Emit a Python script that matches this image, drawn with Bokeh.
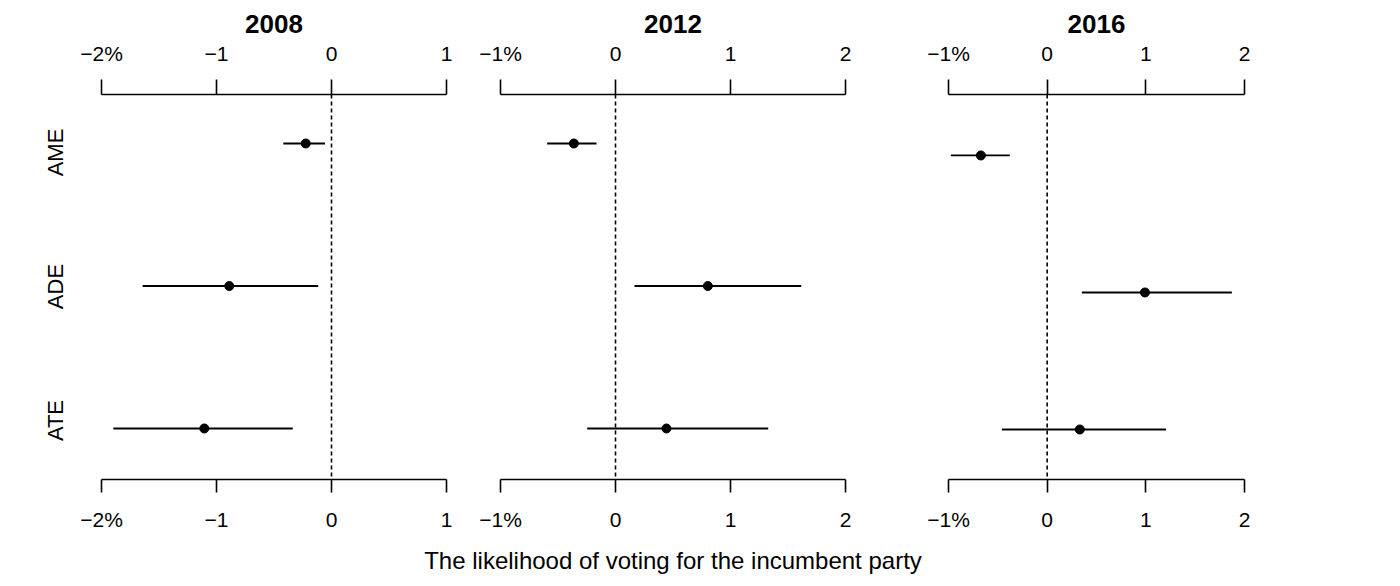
from bokeh.plotting import figure
from bokeh.layouts import row, column
from bokeh.models import Range1d, LinearAxis, FixedTicker, Span, ColumnDataSource, Label
from bokeh.embed import file_html
from bokeh.resources import INLINE

# ---- data ----
effects = ["AME", "ADE", "ATE"]
years = ["2008", "2012", "2016"]

est_2008 = [-0.224, -0.889, -1.106]
lo_2008 = [-0.419, -1.642, -1.897]
hi_2008 = [-0.057, -0.115, -0.337]

est_2012 = [-0.362, 0.803, 0.443]
lo_2012 = [-0.594, 0.165, -0.246]
hi_2012 = [-0.165, 1.615, 1.328]

est_2016 = [-0.672, 0.991, 0.331]
lo_2016 = [-0.976, 0.352, -0.459]
hi_2016 = [-0.378, 1.872, 1.205]

ticks_2008 = [-2, -1, 0, 1]
tick_labels_2008 = ["\u22122%", "\u22121", "0", "1"]
ticks_2012 = [-1, 0, 1, 2]
tick_labels_2012 = ["\u22121%", "0", "1", "2"]
ticks_2016 = [-1, 0, 1, 2]
tick_labels_2016 = ["\u22121%", "0", "1", "2"]

x_title = "The likelihood of voting for the incumbent party"
reference_value = 0

FONT = "Liberation Sans"
PANEL_H = 540


def style_x_axis(ax, ticks, labels, tick_out, standoff):
    ax.ticker = FixedTicker(ticks=ticks)
    ax.major_label_overrides = {float(t): l for t, l in zip(ticks, labels)}
    ax.minor_tick_line_color = None
    ax.major_tick_in = 0
    ax.major_tick_out = tick_out
    ax.axis_line_width = 1.6
    ax.major_tick_line_width = 1.6
    ax.axis_line_color = "black"
    ax.major_tick_line_color = "black"
    ax.major_label_text_font = FONT
    ax.major_label_text_font_size = "21px"
    ax.major_label_text_color = "black"
    ax.major_label_standoff = standoff


def make_panel(title, est, lo, hi, ticks, labels, y_lim, frame_w, bl, br, show_y):
    ys = [len(effects) - i for i in range(len(effects))]
    p = figure(width=bl + frame_w + br, height=PANEL_H,
               x_range=Range1d(ticks[0], ticks[-1]), y_range=Range1d(*y_lim),
               output_backend="svg", toolbar_location=None,
               min_border_left=bl, min_border_right=br,
               min_border_top=94, min_border_bottom=PANEL_H - 479,
               y_axis_location=None,
               title=title)
    p.outline_line_color = None
    p.grid.visible = False
    p.background_fill_color = "white"
    p.border_fill_color = "white"

    p.title.align = "center"
    p.title.text_font = FONT
    p.title.text_font_size = "26px"
    p.title.text_font_style = "bold"
    p.title.text_color = "black"
    p.title.standoff = 12

    top = LinearAxis()
    p.add_layout(top, "above")
    style_x_axis(top, ticks, labels, 15, 15)
    style_x_axis(p.below[0], ticks, labels, 13, 15)

    if show_y:
        p.extra_y_ranges = {"labels": Range1d(0.560, 3.433)}
        ya = LinearAxis(y_range_name="labels")
        p.add_layout(ya, "left")
        ya.ticker = FixedTicker(ticks=ys)
        ya.major_label_overrides = {float(y): e for y, e in zip(ys, effects)}
        ya.axis_line_color = None
        ya.major_tick_line_color = None
        ya.minor_tick_line_color = None
        ya.major_label_orientation = "vertical"
        ya.major_label_standoff = 27
        ya.major_label_text_font = FONT
        ya.major_label_text_font_size = "22px"
        ya.major_label_text_color = "black"

    p.add_layout(Span(location=reference_value, dimension="height", line_dash="4 3",
                      line_width=1.6, line_color="black"))

    src = ColumnDataSource(dict(y=ys, est=est, lo=lo, hi=hi))
    p.segment(x0="lo", x1="hi", y0="y", y1="y", source=src, line_width=1.8, line_color="black")
    p.scatter(x="est", y="y", source=src, size=9, color="black")
    return p


p1 = make_panel(years[0], est_2008, lo_2008, hi_2008, ticks_2008, tick_labels_2008,
                (0.642, 3.344), 345, 101, 27, True)
p2 = make_panel(years[1], est_2012, lo_2012, hi_2012, ticks_2012, tick_labels_2012,
                (0.642, 3.344), 345, 27, 50, False)
p3 = make_panel(years[2], est_2016, lo_2016, hi_2016, ticks_2016, tick_labels_2016,
                (0.635, 3.445), 296, 53, 156, False)

# x-axis title strip shared by the three panels
lab_h = 586 - PANEL_H
pl = figure(width=1400, height=lab_h, x_range=Range1d(0, 1400), y_range=Range1d(0, lab_h),
            output_backend="svg", toolbar_location=None,
            x_axis_location=None, y_axis_location=None,
            min_border=0, min_border_left=0, min_border_right=0,
            min_border_top=0, min_border_bottom=0)
pl.outline_line_color = None
pl.grid.visible = False
pl.add_layout(Label(x=672.5, y=26, text=x_title, text_align="center",
                    text_baseline="alphabetic", text_font=FONT,
                    text_font_size="24px", text_color="black"))

layout = column(row(p1, p2, p3, spacing=0), pl, spacing=0)
open("out.html", "w").write(file_html(layout, INLINE))
